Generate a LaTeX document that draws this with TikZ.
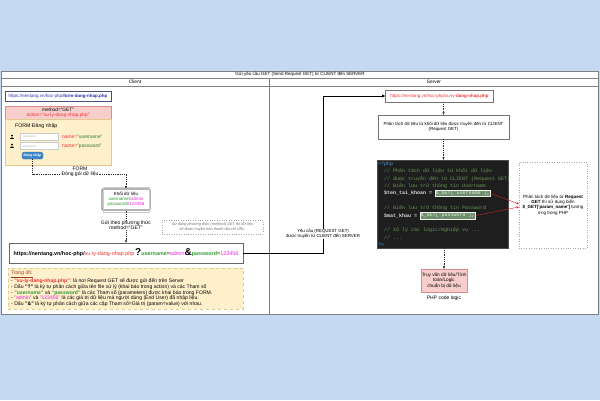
\documentclass[tikz,border=0pt]{standalone}
\usepackage{fontspec}
\setmainfont{Liberation Sans}
\setmonofont{Liberation Mono}
\usetikzlibrary{arrows.meta}
\newcommand\fsz[2]{\fontsize{#1}{#2}\selectfont}
\definecolor{bgblue}{HTML}{C6D9F2}
\definecolor{pinkfill}{HTML}{F8CECC}
\definecolor{pinkline}{HTML}{D98C8A}
\definecolor{yelfill}{HTML}{FFF0CC}
\definecolor{yelline}{HTML}{E3C98C}
\definecolor{urlblue}{HTML}{2B2BA8}
\definecolor{navy}{HTML}{46507A}
\definecolor{gtext}{HTML}{2E9A2E}
\definecolor{mtext}{HTML}{F020E0}
\definecolor{rtext}{HTML}{F03030}
\definecolor{btnblue}{HTML}{3D86C8}
\definecolor{codebg}{HTML}{1E1E1E}
\definecolor{cmt}{HTML}{6A9955}
\definecolor{kw}{HTML}{569CD6}
\definecolor{hlfill}{HTML}{6E8C6E}
\definecolor{hltext}{HTML}{E4EEDC}
\definecolor{brown}{HTML}{9A3A2A}
\begin{document}
\begin{tikzpicture}[x=1pt,y=-1pt,
  lbl/.style={inner sep=0pt, align=center, font=\fsz{4}{4.8}},
  whitebox/.style={draw=black!55, line width=0.4pt, fill=white, inner sep=0pt, align=center},
  dconn/.style={draw=black!85, line width=0.45pt, dash pattern=on 1pt off 0.8pt, -{Triangle[length=2.4pt,width=2pt]}},
  codeline/.style={anchor=west, inner sep=0pt, font=\fsz{5}{5}\ttfamily, text=cmt},
  hl/.style={anchor=west, inner sep=0.8pt, fill=hlfill, draw=hltext!70, line width=0.2pt, font=\fsz{5}{5}\ttfamily, text=hltext},
  frame/.style={draw=black!50, line width=0.5pt},
  redarrow/.style={draw=rtext!85!black, line width=0.4pt, -{Triangle[length=2.4pt,width=2pt]}},
]
\useasboundingbox (0,0) rectangle (600,400);
\fill[bgblue] (0,0) rectangle (600,400);
% panel frame
\fill[white] (1,71) rectangle (598,314);
\draw[frame] (1,71) rectangle (598,314);
\draw[frame] (1,78) -- (598,78);
\draw[frame] (1,86) -- (598,86);
\draw[frame] (269,78) -- (269,314);
\node[lbl, font=\fsz{4.5}{5}] (title) at (300,74.5) {Gửi yêu cầu GET (Send Request GET) từ CLIENT đến SERVER};
\node[lbl, font=\fsz{4.8}{5}] (client) at (135,82) {Client};
\node[lbl, font=\fsz{4.8}{5}] (server) at (434,82) {Server};

% ---------- CLIENT ----------
\node[whitebox, draw=navy, line width=0.7pt, minimum width=106, minimum height=10, font=\fsz{4.5}{5}, text=urlblue] (formurl) at (58,96) {https://nentang.vn/hoc-php/\textbf{form-dang-nhap.php}};
\node[draw=pinkline, fill=pinkfill, line width=0.4pt, minimum width=106, minimum height=13, inner sep=0pt, align=center, font=\fsz{4.8}{5.4}] (formhead) at (58,112.5) {method="GET"\\\textcolor{rtext}{action="xu-ly-dang-nhap.php"}};
\node[draw=yelline, fill=yelfill, line width=0.4pt, minimum width=106, minimum height=46, inner sep=0pt] (formbody) at (58,142) {};
\node[lbl, anchor=west, font=\fsz{5.2}{5.5}] (formtitle) at (15,126.5) {FORM Đăng nhập};
% user icons
\fill[black] (12,135.6) circle (1.1pt);
\fill[black] (10,139.2) .. controls (10,137.2) and (14,137.2) .. (14,139.2) -- cycle;
\fill[black] (12,144.6) circle (1.1pt);
\fill[black] (10,148.2) .. controls (10,146.2) and (14,146.2) .. (14,148.2) -- cycle;
\node[draw=black!20, fill=white, line width=0.3pt, minimum width=38, minimum height=7, inner sep=0pt] (inuser) at (39,137) {};
\node[draw=black!20, fill=white, line width=0.3pt, minimum width=38, minimum height=7, inner sep=0pt] (inpass) at (39,146) {};
\node[lbl, anchor=west, font=\fsz{2.8}{3}, text=black!35] (phuser) at (23,137) {Username};
\node[lbl, anchor=west, font=\fsz{2.8}{3}, text=black!35] (phpass) at (23,146) {Password};
\node[lbl, anchor=west, font=\fsz{4.9}{5}] (nmuser) at (62,137) {\textcolor{rtext}{name=}\textcolor{gtext!80!black}{"username"}};
\node[lbl, anchor=west, font=\fsz{4.9}{5}] (nmpass) at (62,146) {\textcolor{rtext}{name=}\textcolor{gtext!80!black}{"password"}};
\node[draw=btnblue!80!black, fill=btnblue, rounded corners=1.5pt, line width=0.3pt, minimum width=21, minimum height=7, inner sep=0pt, font=\fsz{3.4}{3.6}\bfseries, text=white] (btn) at (32.5,155.5) {Đăng nhập};

% Khoi du lieu
\node[draw=black!45, line width=1.1pt, fill=white, rounded corners=1pt, minimum width=48, minimum height=21, inner sep=0pt, align=center, font=\fsz{4.5}{5.2}] (khoi) at (126,199.5) {Khối dữ liệu\\\textcolor{gtext}{username}=\textcolor{mtext}{admin}\\\textcolor{gtext}{password}=\textcolor{mtext}{123456}};
\draw[black!20, line width=0.3pt] ([shift={(1.2pt,-1.2pt)}]khoi.south west) rectangle ([shift={(-1.2pt,1.2pt)}]khoi.north east);

\coordinate (c1) at (32.5,174);
\coordinate (c2) at (126,174);
\draw[dconn] (btn.south) -- (c1) -- (c2) -- (khoi.north);
\node[lbl, fill=white, inner sep=0.3pt, font=\fsz{5}{5.2}] (formlbl) at (80,171.5) {FORM\\Đóng gói dữ liệu};

% Big URL
\node[whitebox, draw=black!60, line width=0.6pt, minimum width=234, minimum height=20] (bigurl) at (126,253) {\fsz{5.4}{6}\textbf{https://nentang.vn/hoc-php/}\textcolor{rtext}{xu-ly-dang-nhap.php}\,{\fsz{10}{10}\textbf{?}}\textcolor{gtext}{\textbf{username}}=\textcolor{mtext}{admin}{\fsz{10}{10}\textbf{\&}}\textcolor{gtext}{\textbf{password}}=\textcolor{mtext}{123456}};
\draw[dconn] (khoi.south) -- (bigurl.north);
\node[lbl, fill=white, inner sep=0.3pt, font=\fsz{5}{5.2}] (getlbl) at (126,225.5) {Gửi theo phương thức\\method="GET"};

\node[draw=black!35, dotted, line width=0.4pt, minimum width=101, minimum height=14, inner sep=0pt, align=center, font=\fsz{3.85}{4.5}\itshape, text=black!55] (getnote) at (212.5,227) {Sử dụng phương thức (method) GET thì dữ liệu\\sẽ được truyền trên thanh địa chỉ URL.};

% Bottom note
\node[draw=yelline, dashed, fill=yelfill, line width=0.4pt, minimum width=235, minimum height=41, inner sep=0pt] (noteyel) at (125.5,288.5) {};
\node[lbl, anchor=north west, align=left, font=\fsz{5.1}{5.8}] (notetext) at (11,270.5) {%
\textcolor{brown}{\itshape\underline{Trong đó:}}\\
- \textcolor{rtext}{\textbf{"xu-ly-dang-nhap.php"}}: là nơi Request GET sẽ được gửi đến trên Server\\
- Dấu \textbf{"?"} là ký tự phân cách giữa tên file xử lý (khai báo trong action) và các Tham số\\
- \textcolor{gtext}{\textbf{"username"}} và \textcolor{gtext}{\textbf{"password"}} là các Tham số (parameters) được khai báo trong FORM.\\
- \textcolor{mtext}{"admin"} và \textcolor{mtext}{"123456"} là các giá trị dữ liệu mà người dùng (End User) đã nhập liệu.\\
- Dấu \textbf{"\&"} là ký tự phân cách giữa các cặp Tham số=Giá trị (param=value) với nhau.};

% ---------- SERVER ----------
\node[whitebox, minimum width=108, minimum height=12, font=\fsz{4.5}{5}, text=rtext] (srvurl) at (439.5,96) {https://nentang.vn/hoc-php/xu-ly-\textbf{dang-nhap.php}};
\node[whitebox, minimum width=131, minimum height=24, font=\fsz{4.4}{5.2}] (phantach) at (443.5,127) {Phân tách dữ liệu từ khối dữ liệu được truyền đến từ CLIENT\\(Request GET)};
\node[fill=codebg, draw=black!70, line width=0.4pt, minimum width=131, minimum height=88, inner sep=0pt] (code) at (442.5,204) {};
\draw[dconn] (phantach.north |- srvurl.south) -- (phantach.north);
\draw[dconn] (phantach.south) -- (phantach.south |- code.north);

\node[codeline, text=kw] (l0) at (378,164) {<?php};
\node[codeline] (l1) at (384,171.4) {// Phân tách dữ liệu từ khối dữ liệu};
\node[codeline] (l2) at (384,178.7) {// được truyền đến từ CLIENT (Request GET)};
\node[codeline] (l3) at (384,186.1) {// Biến lưu trữ thông tin Username};
\node[codeline, text=white!88!black, font=\fsz{5}{5}\ttfamily\bfseries] (l4) at (384,193.4) {\$ten\_tai\_khoan =};
\node[hl] (hl1) at ([xshift=2.4pt]l4.east) {\$\_GET['username'];};
\node[codeline] (l6) at (384,208.2) {// Biến lưu trữ thông tin Password};
\node[codeline, text=white!88!black, font=\fsz{5}{5}\ttfamily\bfseries] (l7) at (384,215.5) {\$mat\_khau =};
\node[hl] (hl2) at ([xshift=2.4pt]l7.east) {\$\_GET['password'];};
\node[codeline] (l9) at (384,230.2) {// Xử lý các logic/Nghiệp vụ ...};
\node[codeline] (l10) at (384,237.6) {// ...};
\node[codeline, text=kw] (l11) at (378,245) {?>};

\node[draw=black!35, dotted, line width=0.45pt, minimum width=68, minimum height=86, inner sep=0pt, align=center, font=\fsz{4.5}{5.4}] (getexp) at (553,205) {Phân tách dữ liệu từ \textbf{Request}\\\textbf{GET} thì sử dụng biến\\\textbf{\$\_GET['param\_name']} tương\\ứng trong PHP};
\coordinate (ga) at (519,204);
\coordinate (gb) at (519,207);
\draw[redarrow] (hl1.east) -- (ga);
\draw[redarrow] (hl2.east) -- (gb);

\node[draw=pinkline, fill=pinkfill, line width=0.4pt, minimum width=46, minimum height=23, inner sep=0pt, align=center, font=\fsz{4.7}{5.3}] (logic) at (444,280.5) {Truy vấn dữ liệu/Tính\\toán/Logic\\chuẩn bị dữ liệu};
\node[lbl, font=\fsz{5}{5}] (logiclbl) at (444,298) {PHP code logic};
\draw[dconn] (logic.north |- code.south) -- (logic.north);

% request arrow
\coordinate (bend) at (323,253);
\draw[black, line width=0.9pt, -{Triangle[length=3.2pt,width=2.8pt]}] (bigurl.east) -- (bend) |- (srvurl.west);
\node[lbl, fill=white, inner sep=0.4pt, font=\fsz{4.4}{5}] (reqlbl) at (323,234) {Yêu cầu (REQUEST GET)\\được truyền từ CLIENT đến SERVER};
\end{tikzpicture}
\end{document}
